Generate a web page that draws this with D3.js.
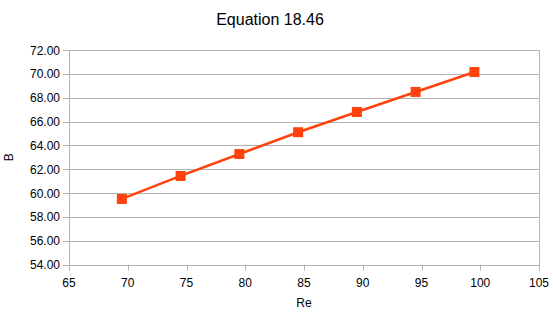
<!DOCTYPE html>
<html>
<head>
<meta charset="utf-8">
<script src="https://cdn.jsdelivr.net/npm/d3@7"></script>
<style>
  body { margin: 0; background: #fff; }
  text { font-family: "Liberation Sans", Arial, sans-serif; fill: #000; }
</style>
</head>
<body>
<div id="chart"></div>
<script>
var reValues = [69.5, 74.5, 79.5, 84.5, 89.5, 94.5, 99.5];
var bValues = [59.5, 61.43, 63.27, 65.1, 66.8, 68.48, 70.15];
var xTicks = [65, 70, 75, 80, 85, 90, 95, 100, 105];
var yTicks = [54, 56, 58, 60, 62, 64, 66, 68, 70, 72];

var width = 553, height = 321;
var margin = {top: 50, right: 14, bottom: 56.5, left: 69};

var svg = d3.select("#chart").append("svg")
    .attr("width", width)
    .attr("height", height);

var x = d3.scaleLinear().domain([65, 105]).range([margin.left, width - margin.right]);
var y = d3.scaleLinear().domain([54, 72]).range([height - margin.bottom, margin.top]);

// grid
svg.append("g").selectAll("line")
    .data(yTicks)
  .enter().append("line")
    .attr("x1", x(65) - 6)
    .attr("x2", x(105))
    .attr("y1", function(d) { return Math.round(y(d)) + 0.5; })
    .attr("y2", function(d) { return Math.round(y(d)) + 0.5; })
    .attr("stroke", "#b3b3b3")
    .attr("stroke-width", 1);

// axis lines
svg.append("line")
    .attr("x1", Math.round(x(65)) + 0.5).attr("x2", Math.round(x(65)) + 0.5)
    .attr("y1", y(72)).attr("y2", y(54) + 6)
    .attr("stroke", "#b3b3b3");
svg.append("line")
    .attr("x1", Math.round(x(105)) + 0.5).attr("x2", Math.round(x(105)) + 0.5)
    .attr("y1", y(72)).attr("y2", y(54) + 6)
    .attr("stroke", "#b3b3b3");

// x ticks
svg.append("g").selectAll("line")
    .data(xTicks)
  .enter().append("line")
    .attr("x1", function(d) { return Math.round(x(d)) + 0.5; })
    .attr("x2", function(d) { return Math.round(x(d)) + 0.5; })
    .attr("y1", y(54))
    .attr("y2", y(54) + 6)
    .attr("stroke", "#b3b3b3");

svg.append("g").selectAll("text")
    .data(xTicks)
  .enter().append("text")
    .attr("x", function(d) { return x(d); })
    .attr("y", y(54) + 22)
    .attr("text-anchor", "middle")
    .attr("font-size", 12)
    .text(function(d) { return d; });

svg.append("g").selectAll("text")
    .data(yTicks)
  .enter().append("text")
    .attr("x", x(65) - 9)
    .attr("y", function(d) { return y(d) + 4.5; })
    .attr("text-anchor", "end")
    .attr("font-size", 12)
    .text(function(d) { return d.toFixed(2); });

// series
var pts = reValues.map(function(d, i) { return [d, bValues[i]]; });

svg.append("path")
    .datum(pts)
    .attr("fill", "none")
    .attr("stroke", "#ff420e")
    .attr("stroke-width", 2.5)
    .attr("d", d3.line().x(function(d) { return x(d[0]); }).y(function(d) { return y(d[1]); }));

svg.append("g").selectAll("rect")
    .data(pts)
  .enter().append("rect")
    .attr("x", function(d) { return x(d[0]) - 5; })
    .attr("y", function(d) { return y(d[1]) - 5; })
    .attr("width", 10)
    .attr("height", 10)
    .attr("fill", "#ff420e");

// titles
svg.append("text")
    .attr("x", 270)
    .attr("y", 25)
    .attr("text-anchor", "middle")
    .attr("font-size", 16)
    .text("Equation 18.46");

svg.append("text")
    .attr("x", x(85))
    .attr("y", 307)
    .attr("text-anchor", "middle")
    .attr("font-size", 12)
    .text("Re");

svg.append("text")
    .attr("transform", "translate(13," + y(63) + ") rotate(-90)")
    .attr("text-anchor", "middle")
    .attr("font-size", 12)
    .text("B");
</script>
</body>
</html>
